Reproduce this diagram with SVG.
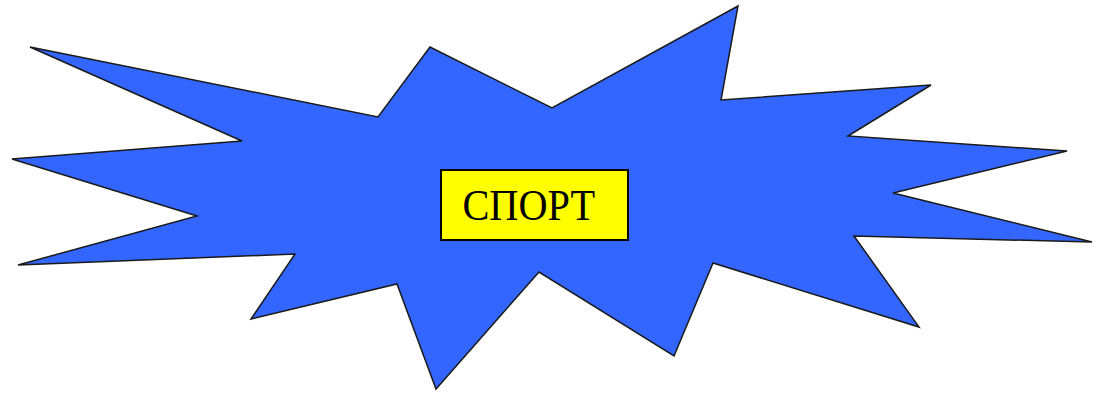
<svg xmlns="http://www.w3.org/2000/svg" width="1099" height="396" viewBox="0 0 1099 396">
  <style>
    .burst { fill: #3366ff; stroke: #1a1a1a; stroke-width: 1.5; stroke-linejoin: miter; }
    .label-box { fill: #ffff00; stroke: #000000; stroke-width: 2; }
    .label-text { font-family: "Liberation Serif", "Times New Roman", serif; font-size: 45px; fill: #000000; }
  </style>
  <rect width="1099" height="396" fill="#ffffff"/>
  <g id="burst-shape">
    <polygon class="burst" points="30,47 378,117 430,47 552,108 738,6 721,100 931,85 848,136 1067,151 893,193 1092,242 854,236 919,327 713,263 674,356 539,272 436,389 397,284 251,319 295,254 18,265 197,216 12,159 242,141"/>
  </g>
  <g id="label">
    <rect class="label-box" x="441" y="170" width="187" height="70"/>
    <text class="label-text" x="462.5" y="219.5" textLength="132.5" lengthAdjust="spacingAndGlyphs">СПОРТ</text>
  </g>
  <g id="connectors"></g>
</svg>
